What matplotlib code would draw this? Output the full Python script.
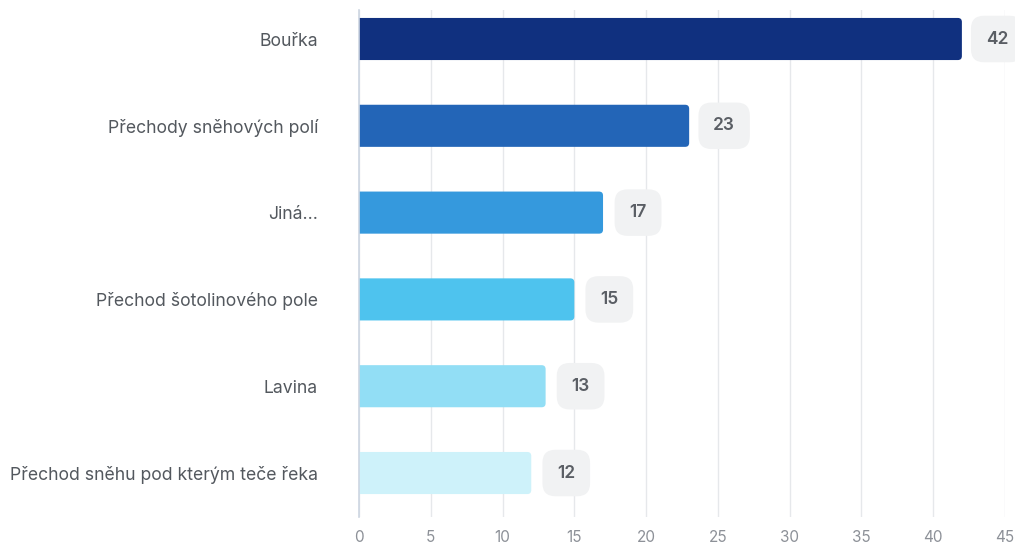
import matplotlib.pyplot as plt
from matplotlib.patches import FancyBboxPatch

plt.rcParams["font.family"] = ["Inter", "DejaVu Sans"]

# --- Data --------------------------------------------------------------------
categories = [
    "Bouřka",
    "Přechody sněhových polí",
    "Jiná...",
    "Přechod šotolinového pole",
    "Lavina",
    "Přechod sněhu pod kterým teče řeka",
]
values = [42, 23, 17, 15, 13, 12]
bar_colors = ["#10307f", "#2365b7", "#3599dd", "#4ec3ee", "#92def5", "#cef2fa"]
x_ticks = [0, 5, 10, 15, 20, 25, 30, 35, 40, 45]

# --- Figure ------------------------------------------------------------------
fig = plt.figure(figsize=(10.15, 5.47), dpi=100, facecolor="white")
ax = fig.add_axes([0.3537, 0.0548, 0.6364, 0.9269])

ypos = list(range(len(categories)))
bars = ax.barh(ypos, values, height=0.485, color=bar_colors, zorder=3)

# rounded right corners: redraw each bar as a rounded patch, left end clipped by the axes
px_x = ax.get_window_extent().width / 45.0
px_y = ax.get_window_extent().height / 5.84
for b in bars:
    y0, h = b.get_y(), b.get_height()
    w = b.get_width()
    r = 4.0 / px_x
    patch = FancyBboxPatch((-1.0, y0), w + 1.0, h,
                           boxstyle=f"round,pad=0,rounding_size={r}",
                           mutation_aspect=px_x / px_y,
                           facecolor=b.get_facecolor(), edgecolor="none",
                           zorder=3, clip_on=True)
    ax.add_patch(patch)
    b.set_visible(False)

ax.set_xlim(0, 45)
ax.set_ylim(5.507, -0.334)
ax.set_yticks(ypos)
ax.set_yticklabels(categories, fontsize=12.7, color="#53585e")
ax.set_xticks(x_ticks)
ax.set_xticklabels([str(t) for t in x_ticks], fontsize=11, color="#8d9198")
ax.tick_params(axis="both", length=0)
ax.tick_params(axis="y", pad=29.5)
ax.tick_params(axis="x", pad=9)

ax.grid(axis="x", color="#e6e8eb", linewidth=1.0, zorder=0)
for side in ["top", "right", "bottom"]:
    ax.spines[side].set_visible(False)
ax.spines["left"].set_color("#cdd6e2")
ax.spines["left"].set_linewidth(1.2)
ax.spines["left"].set_zorder(4)

# value badges
for y, v in zip(ypos, values):
    ax.annotate(str(v), xy=(v, y), xytext=(35, 0), textcoords="offset pixels",
                ha="center", va="center", fontsize=12.5, fontweight="semibold",
                color="#5a5e64", annotation_clip=False, zorder=5,
                bbox=dict(boxstyle="round,pad=0.85,rounding_size=0.75",
                          facecolor="#f1f2f3", edgecolor="none"))

fig.savefig("out.png", dpi=100, facecolor="white")
